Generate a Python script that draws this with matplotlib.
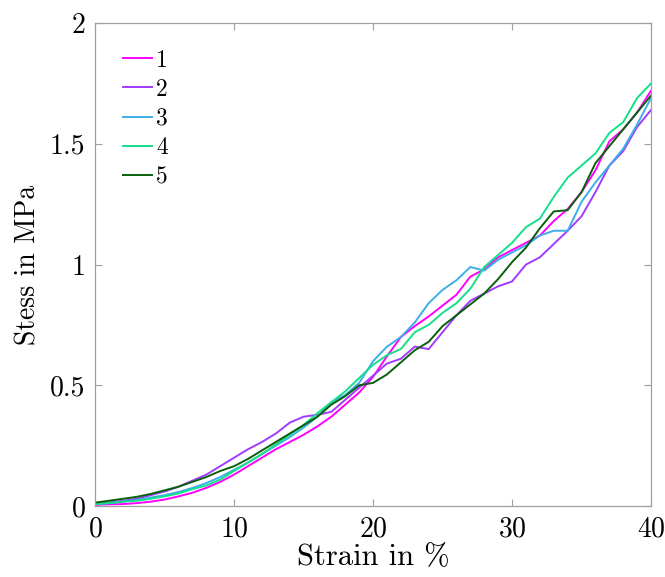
import matplotlib
matplotlib.use("Agg")
import matplotlib.pyplot as plt
import numpy as np

plt.rcParams["font.family"] = "serif"
plt.rcParams["font.serif"] = ["cmr10"]
plt.rcParams["mathtext.fontset"] = "cm"
plt.rcParams["axes.formatter.use_mathtext"] = True

strain = np.arange(0, 41)

stress_1 = [0.005, 0.007, 0.008, 0.012, 0.018, 0.027, 0.04, 0.055, 0.075, 0.10,
            0.13, 0.165, 0.20, 0.235, 0.265, 0.295, 0.33, 0.37, 0.42, 0.47,
            0.535, 0.62, 0.70, 0.745, 0.785, 0.83, 0.875, 0.95, 0.98, 1.03,
            1.06, 1.09, 1.12, 1.18, 1.23, 1.30, 1.39, 1.51, 1.56, 1.63, 1.72]
stress_2 = [0.008, 0.015, 0.022, 0.03, 0.045, 0.06, 0.08, 0.105, 0.13, 0.165,
            0.20, 0.235, 0.265, 0.30, 0.345, 0.37, 0.378, 0.39, 0.44, 0.49,
            0.54, 0.59, 0.61, 0.66, 0.65, 0.72, 0.79, 0.85, 0.88, 0.91,
            0.93, 1.00, 1.03, 1.085, 1.14, 1.20, 1.30, 1.41, 1.47, 1.57, 1.64]
stress_3 = [0.008, 0.012, 0.018, 0.025, 0.035, 0.045, 0.058, 0.075, 0.095, 0.12,
            0.15, 0.18, 0.215, 0.25, 0.285, 0.325, 0.37, 0.43, 0.46, 0.51,
            0.60, 0.66, 0.70, 0.76, 0.84, 0.895, 0.935, 0.99, 0.975, 1.02,
            1.05, 1.08, 1.12, 1.14, 1.14, 1.26, 1.34, 1.41, 1.48, 1.58, 1.69]
stress_4 = [0.008, 0.012, 0.018, 0.022, 0.03, 0.04, 0.052, 0.07, 0.085, 0.11,
            0.145, 0.18, 0.215, 0.255, 0.295, 0.335, 0.385, 0.43, 0.475, 0.53,
            0.585, 0.625, 0.65, 0.72, 0.75, 0.80, 0.84, 0.90, 0.99, 1.04,
            1.09, 1.155, 1.19, 1.28, 1.36, 1.41, 1.46, 1.545, 1.59, 1.69, 1.75]
stress_5 = [0.014, 0.022, 0.03, 0.038, 0.05, 0.065, 0.08, 0.10, 0.12, 0.145,
            0.165, 0.195, 0.23, 0.265, 0.30, 0.335, 0.37, 0.42, 0.455, 0.50,
            0.51, 0.545, 0.595, 0.645, 0.68, 0.745, 0.79, 0.835, 0.88, 0.94,
            1.01, 1.07, 1.15, 1.22, 1.225, 1.30, 1.42, 1.49, 1.56, 1.63, 1.70]

labels = ["1", "2", "3", "4", "5"]
colors = ["#ff00ff", "#a13bff", "#3caee8", "#14e08a", "#0a600a"]
series = [stress_1, stress_2, stress_3, stress_4, stress_5]

fig = plt.figure(figsize=(6.65, 5.77), dpi=100)
ax = fig.add_axes([0.143, 0.123, 0.836, 0.837])

for y, lab, c in zip(series, labels, colors):
    ax.plot(strain, y, color=c, lw=1.4, label=lab)

ax.set_xlim(0, 40)
ax.set_ylim(0, 2)
ax.set_xticks([0, 10, 20, 30, 40])
ax.set_yticks([0, 0.5, 1, 1.5, 2])
ax.set_yticklabels(["0", "0.5", "1", "1.5", "2"])
ax.tick_params(direction="in", length=5, color="#a0a0a0", labelsize=20,
               top=True, right=True, pad=7)
for sp in ax.spines.values():
    sp.set_color("#a0a0a0")
    sp.set_linewidth(0.9)

ax.set_xlabel("Strain in %", fontsize=22, labelpad=1)
ax.set_ylabel("Stess in MPa", fontsize=20, labelpad=6)

ax.legend(loc="upper left", frameon=False, fontsize=17, handlelength=1.25,
          handletextpad=0.15, labelspacing=0.3, borderaxespad=0.0,
          bbox_to_anchor=(0.033, 0.965))

fig.savefig("out.png", dpi=100)
